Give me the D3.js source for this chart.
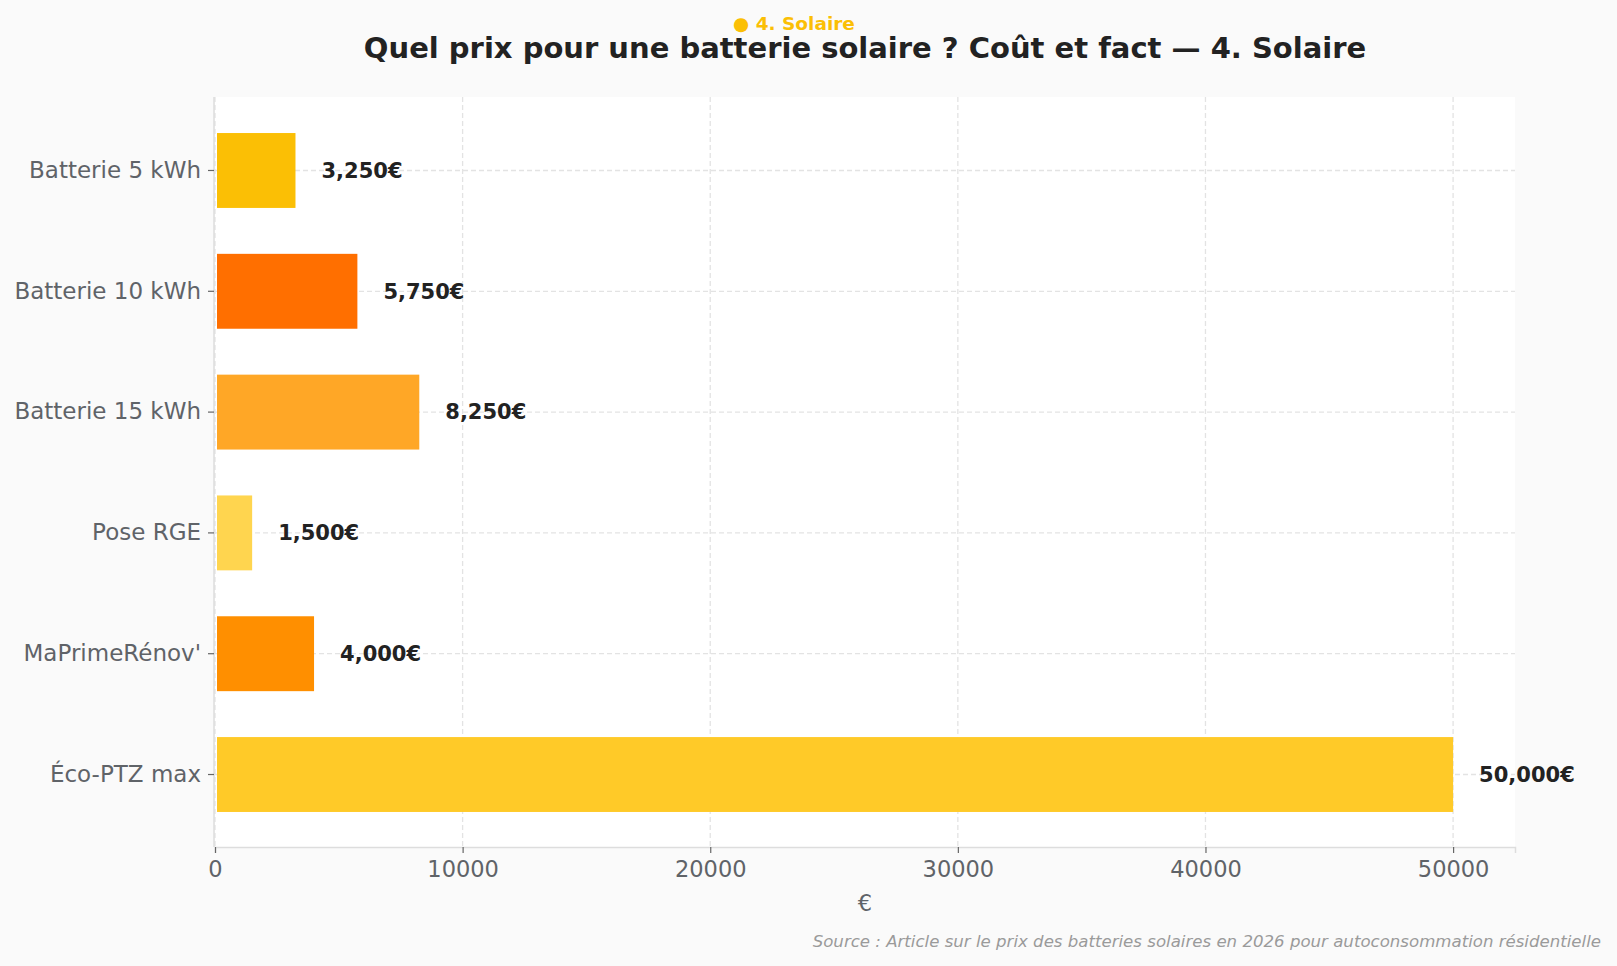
<!DOCTYPE html>
<html><head><meta charset="utf-8">
<script src="https://cdn.jsdelivr.net/npm/d3@7"></script>
<style>
html,body{margin:0;padding:0;background:#fafafa;}
svg{display:block;font-family:"DejaVu Sans",sans-serif;}
</style></head>
<body>
<svg id="chart" width="1617" height="966"></svg>
<script>
const categories = ["Batterie 5 kWh","Batterie 10 kWh","Batterie 15 kWh","Pose RGE","MaPrimeRénov'","Éco-PTZ max"];
const values = [3250, 5750, 8250, 1500, 4000, 50000];
const colors = ["#FBBF05","#FF6F00","#FFA726","#FFD54F","#FF8F00","#FFCA28"];
const xTicks = [0, 10000, 20000, 30000, 40000, 50000];
const title = "Quel prix pour une batterie solaire ? Coût et fact — 4. Solaire";
const subtitle = "● 4. Solaire";
const xLabel = "€";
const source = "Source : Article sur le prix des batteries solaires en 2026 pour autoconsommation résidentielle";

const W = 1617, H = 966;
const m = {left: 215, right: 1515, top: 97, bottom: 847};
const svg = d3.select("#chart");
svg.append("rect").attr("width", W).attr("height", H).attr("fill", "#fafafa");
svg.append("rect").attr("x", m.left).attr("y", m.top).attr("width", m.right - m.left).attr("height", m.bottom - m.top).attr("fill", "#ffffff");

const x = d3.scaleLinear().domain([0, 52500]).range([m.left, m.right]);
const y = d3.scaleBand().domain(categories).range([m.top + 1, m.bottom]).paddingInner(0.38).paddingOuter(0.29);

const grid = svg.append("g");
grid.selectAll("line.v").data(xTicks).join("line")
  .attr("x1", d => x(d)).attr("x2", d => x(d)).attr("y1", m.top).attr("y2", m.bottom)
  .attr("stroke", "#e3e3e3").attr("stroke-width", 1.3).attr("stroke-dasharray", "5,3");
grid.selectAll("line.h").data(categories).join("line")
  .attr("x1", m.left).attr("x2", m.right).attr("y1", d => y(d) + y.bandwidth()/2).attr("y2", d => y(d) + y.bandwidth()/2)
  .attr("stroke", "#e3e3e3").attr("stroke-width", 1.3).attr("stroke-dasharray", "5,3");

svg.append("g").selectAll("rect").data(categories).join("rect")
  .attr("x", x(0) + 2).attr("y", d => y(d))
  .attr("width", (d, i) => x(values[i]) - x(0) - 2).attr("height", y.bandwidth())
  .attr("fill", (d, i) => colors[i]);

// value labels
const lab = svg.append("g");
categories.forEach((c, i) => {
  lab.append("text")
    .attr("x", x(values[i] + 1050)).attr("y", y(c) + y.bandwidth()/2)
    .attr("dy", "0.35em").attr("font-size", 21).attr("font-weight", "bold").attr("fill", "#222")
    .text(d3.format(",")(values[i]) + "€");
});

// axes
const xAxis = svg.append("g").attr("transform", `translate(0,${m.bottom})`)
  .call(d3.axisBottom(x).tickValues(xTicks).tickFormat(d3.format("d")).tickSize(6).tickPadding(8));
xAxis.select(".domain").attr("stroke", "#dddddd").attr("stroke-width", 1.5);
xAxis.selectAll(".tick line").attr("stroke", "#666").attr("stroke-width", 1.2);
xAxis.selectAll(".tick text").attr("font-size", 22.5).attr("fill", "#5f6368").attr("font-family", "DejaVu Sans");

const yAxis = svg.append("g").attr("transform", `translate(${m.left - 1},0)`)
  .call(d3.axisLeft(y).tickSize(6).tickPadding(7));
yAxis.select(".domain").attr("stroke", "#dddddd").attr("stroke-width", 1.5).attr("d", `M0,${m.top}V${m.bottom}`);
yAxis.selectAll(".tick line").attr("stroke", "#666").attr("stroke-width", 1.2);
yAxis.selectAll(".tick text").attr("font-size", 23).attr("fill", "#5f6368").attr("font-family", "DejaVu Sans");

svg.append("text").attr("x", (m.left + m.right)/2).attr("y", 911).attr("text-anchor", "middle")
  .attr("font-size", 22.5).attr("fill", "#5f6368").text(xLabel);

svg.append("text").attr("x", (m.left + m.right)/2).attr("y", 58).attr("text-anchor", "middle")
  .attr("font-size", 29).attr("font-weight", "bold").attr("fill", "#222").text(title);
svg.append("text").attr("x", 794).attr("y", 30).attr("text-anchor", "middle")
  .attr("font-size", 18.5).attr("font-weight", "bold").attr("fill", "#FBBF05").text(subtitle);

svg.append("text").attr("x", 1601).attr("y", 947).attr("text-anchor", "end")
  .attr("font-size", 16.6).attr("font-style", "italic").attr("fill", "#9a9a9a").text(source);
</script>
</body></html>
